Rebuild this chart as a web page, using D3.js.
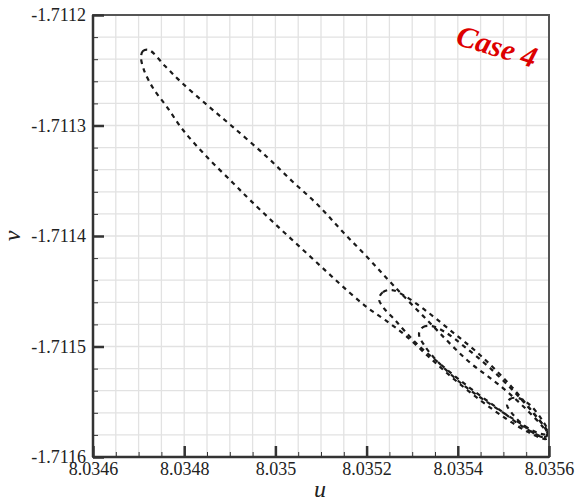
<!DOCTYPE html>
<html><head><meta charset="utf-8">
<script src="https://cdn.jsdelivr.net/npm/d3@7"></script>
<style>body{margin:0;background:#fff}svg{display:block}</style>
</head><body><svg id="c" width="576" height="504"></svg>
<script>
// Axis tick values and labels
const xTickValues = [8.0346, 8.0348, 8.0350, 8.0352, 8.0354, 8.0356];
const xTickLabels = ["8.0346", "8.0348", "8.035", "8.0352", "8.0354", "8.0356"];
const yTickValues = [-1.7112, -1.7113, -1.7114, -1.7115, -1.7116];
const yTickLabels = ["-1.7112", "-1.7113", "-1.7114", "-1.7115", "-1.7116"];

// Closed trajectory loops, [u, v]
const loopMain = [
  [8.0347053,-1.7112380],[8.0347096,-1.7112326],[8.0347228,-1.7112317],[8.0347579,-1.7112462],
  [8.0347930,-1.7112606],[8.0348500,-1.7112814],[8.0349070,-1.7113014],[8.0349816,-1.7113285],
  [8.0350386,-1.7113511],[8.0350934,-1.7113720],[8.0351482,-1.7113964],[8.0352031,-1.7114199],
  [8.0352579,-1.7114443],[8.0353390,-1.7114787],[8.0354202,-1.7115122],[8.0354991,-1.7115376],
  [8.0355518,-1.7115575],[8.0355868,-1.7115729],[8.0356000,-1.7115810],[8.0355934,-1.7115837],
  [8.0355583,-1.7115783],[8.0355035,-1.7115647],[8.0354487,-1.7115484],[8.0353939,-1.7115303],
  [8.0353390,-1.7115104],[8.0352842,-1.7114896],[8.0352404,-1.7114760],[8.0352031,-1.7114652],
  [8.0351636,-1.7114516],[8.0351132,-1.7114326],[8.0350539,-1.7114100],[8.0349947,-1.7113873],
  [8.0349443,-1.7113674],[8.0349070,-1.7113520],[8.0348500,-1.7113285],[8.0347974,-1.7113041],
  [8.0347623,-1.7112833],[8.0347316,-1.7112661],[8.0347118,-1.7112498]
];
const loopA = [
  [8.0352272,-1.7114570],[8.0352360,-1.7114507],[8.0352557,-1.7114489],[8.0352842,-1.7114543],
  [8.0353281,-1.7114670],[8.0353829,-1.7114851],[8.0354487,-1.7115077],[8.0355145,-1.7115348],
  [8.0355693,-1.7115620],[8.0355978,-1.7115783],[8.0355912,-1.7115819],[8.0355474,-1.7115738],
  [8.0354925,-1.7115575],[8.0354268,-1.7115376],[8.0353610,-1.7115158],[8.0353061,-1.7114959],
  [8.0352623,-1.7114760],[8.0352360,-1.7114643]
];
const loopB = [
  [8.0353149,-1.7114887],[8.0353237,-1.7114824],[8.0353434,-1.7114815],[8.0353719,-1.7114869],
  [8.0354158,-1.7115005],[8.0354706,-1.7115195],[8.0355364,-1.7115466],[8.0355912,-1.7115738],
  [8.0355956,-1.7115792],[8.0355759,-1.7115783],[8.0355254,-1.7115665],[8.0354706,-1.7115520],
  [8.0354092,-1.7115339],[8.0353566,-1.7115140],[8.0353259,-1.7114986]
];
const loopC = [
  [8.0355079,-1.7115529],[8.0355145,-1.7115475],[8.0355320,-1.7115466],[8.0355583,-1.7115529],
  [8.0355847,-1.7115665],[8.0355978,-1.7115774],[8.0355890,-1.7115819],[8.0355627,-1.7115774],
  [8.0355364,-1.7115683],[8.0355167,-1.7115593]
];
const loops = [loopMain, loopA, loopB, loopC];

const W = 576, H = 504;
const m = {l: 93, t: 15, r: 27, b: 47};
const pw = W - m.l - m.r, ph = H - m.t - m.b;
const svg = d3.select("#c");
const x = d3.scaleLinear().domain([8.0346, 8.0356]).range([m.l, m.l + pw]);
const y = d3.scaleLinear().domain([-1.7116, -1.7112]).range([m.t + ph, m.t]);
const serif = "'Liberation Serif','Times New Roman',Times,serif";

// grid
const xMinor = x.ticks(20), yMinor = y.ticks(20);
const g = svg.append("g");
g.selectAll(".gx").data(xMinor).enter().append("line")
  .attr("x1", d => x(d)).attr("x2", d => x(d)).attr("y1", m.t).attr("y2", m.t + ph)
  .attr("stroke", "#e2e2e2").attr("stroke-width", 1.3);
g.selectAll(".gy").data(yMinor).enter().append("line")
  .attr("y1", d => y(d)).attr("y2", d => y(d)).attr("x1", m.l).attr("x2", m.l + pw)
  .attr("stroke", "#e2e2e2").attr("stroke-width", 1.3);

// curves
svg.append("clipPath").attr("id", "clip").append("rect")
  .attr("x", m.l).attr("y", m.t).attr("width", pw).attr("height", ph);
const line = d3.line().x(d => x(d[0])).y(d => y(d[1])).curve(d3.curveCatmullRomClosed.alpha(0.5));
svg.append("g").attr("clip-path", "url(#clip)").selectAll("path").data(loops).enter().append("path")
  .attr("d", line).attr("fill", "none").attr("stroke", "#1a1a1a")
  .attr("stroke-width", 2.2).attr("stroke-dasharray", "4.5,4.5");

// frame
svg.append("rect").attr("x", m.l).attr("y", m.t).attr("width", pw).attr("height", ph)
  .attr("fill", "none").attr("stroke", "#555").attr("stroke-width", 2);
svg.append("line").attr("x1", m.l).attr("x2", m.l).attr("y1", m.t).attr("y2", m.t + ph)
  .attr("stroke", "#333").attr("stroke-width", 2.5);
svg.append("line").attr("x1", m.l).attr("x2", m.l + pw).attr("y1", m.t + ph).attr("y2", m.t + ph)
  .attr("stroke", "#333").attr("stroke-width", 2.5);

// axes via d3 axis (inward ticks)
const xAxisMinor = d3.axisBottom(x).tickValues(xMinor).tickSize(-5).tickFormat("");
const xAxisMajor = d3.axisBottom(x).tickValues(xTickValues).tickSize(-11).tickPadding(5)
  .tickFormat((d, i) => xTickLabels[i]);
const yAxisMinor = d3.axisLeft(y).tickValues(yMinor).tickSize(-5).tickFormat("");
const yAxisMajor = d3.axisLeft(y).tickValues(yTickValues).tickSize(-11).tickPadding(7)
  .tickFormat((d, i) => yTickLabels[i]);

function style(sel, w) {
  sel.attr("font-family", null).attr("font-size", null);
  sel.select(".domain").remove();
  sel.selectAll(".tick line").attr("stroke", "#333").attr("stroke-width", w);
  sel.selectAll(".tick text").attr("fill", "#222")
    .attr("font-family", serif).attr("font-size", 18)
    .style("font-family", serif).style("font-size", "18px");
}
style(svg.append("g").attr("transform", `translate(0,${m.t + ph})`).call(xAxisMinor), 1);
style(svg.append("g").attr("transform", `translate(0,${m.t + ph})`).call(xAxisMajor), 2.5);
style(svg.append("g").attr("transform", `translate(${m.l},0)`).call(yAxisMinor), 1);
style(svg.append("g").attr("transform", `translate(${m.l},0)`).call(yAxisMajor), 2.5);

// axis titles
svg.append("text").attr("x", 320).attr("y", 497).attr("text-anchor", "middle")
  .style("font-family", serif).style("font-style", "italic").style("font-size", "24px")
  .attr("fill", "#222").text("u");
svg.append("text").attr("transform", "translate(20,236) rotate(-90)").attr("text-anchor", "middle")
  .style("font-family", serif).style("font-style", "italic").style("font-size", "24px")
  .attr("fill", "#222").text("v");

// annotation
svg.append("text").attr("transform", "translate(494,56) rotate(17)").attr("text-anchor", "middle")
  .style("font-family", serif).style("font-style", "italic").style("font-weight", "bold")
  .style("font-size", "30px").attr("fill", "#dd0000").text("Case 4");
</script></body></html>
